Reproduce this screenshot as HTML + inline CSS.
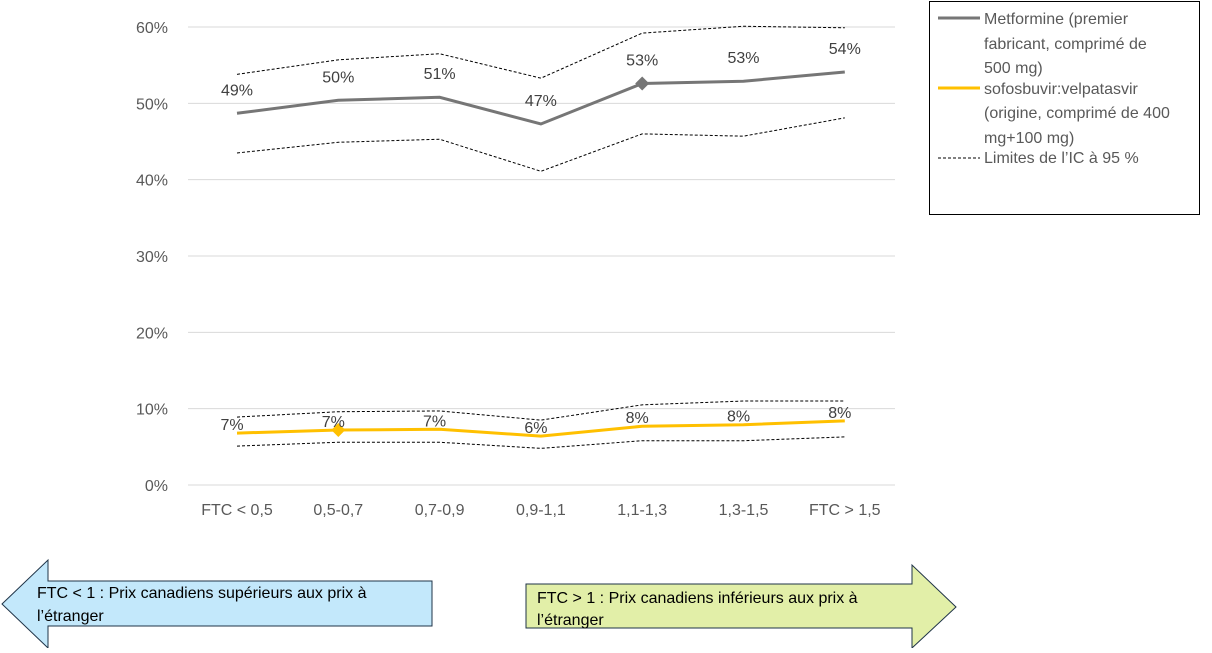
<!DOCTYPE html>
<html><head><meta charset="utf-8"><style>
body{margin:0;background:#fff;font-family:"Liberation Sans",sans-serif}
svg text{font-family:"Liberation Sans",sans-serif}
</style></head><body>
<svg width="1212" height="648">
<g id="grid"></g><g id="marks"></g><g id="labels"></g>
<g>
<rect x="929.5" y="1.5" width="270" height="213" fill="#fff" stroke="#000"/>
<line x1="938" y1="18" x2="980" y2="18" stroke="#767676" stroke-width="3"/>
<text x="984" y="24" font-size="16" fill="#595959">Metformine (premier</text>
<text x="984" y="49" font-size="16" fill="#595959">fabricant, comprimé de</text>
<text x="984" y="73" font-size="16" fill="#595959">500 mg)</text>
<line x1="938" y1="88" x2="980" y2="88" stroke="#FFC000" stroke-width="3"/>
<text x="984" y="94" font-size="16" fill="#595959">sofosbuvir:velpatasvir</text>
<text x="984" y="118" font-size="16" fill="#595959">(origine, comprimé de 400</text>
<text x="984" y="143" font-size="16" fill="#595959">mg+100 mg)</text>
<line x1="938" y1="158" x2="980" y2="158" stroke="#000" stroke-dasharray="3,2"/>
<text x="984" y="163" font-size="16" fill="#595959">Limites de l’IC à 95 %</text>
</g>
<g>
<polygon points="2,604 48,560 48,581 432,581 432,626 48,626 48,648" fill="#C3E8FB" stroke="#1F3347"/>
<text x="37" y="598" font-size="16" fill="#000">FTC &lt; 1 : Prix canadiens supérieurs aux prix à</text>
<text x="37" y="621" font-size="16" fill="#000">l’étranger</text>
</g>
<g>
<polygon points="956,607 912,565 912,584 526,584 526,628 912,628 912,648" fill="#E2EFA8" stroke="#1F3347"/>
<text x="537" y="603" font-size="16" fill="#000">FTC &gt; 1 : Prix canadiens inférieurs aux prix à</text>
<text x="537" y="625" font-size="16" fill="#000">l’étranger</text>
</g>
</svg>
<script>
const categories=["FTC < 0,5","0,5-0,7","0,7-0,9","0,9-1,1","1,1-1,3","1,3-1,5","FTC > 1,5"];
const metValues=[48.7,50.4,50.8,47.3,52.6,52.9,54.1];
const metUpper=[53.8,55.7,56.5,53.3,59.2,60.1,59.9];
const metLower=[43.5,44.9,45.3,41.1,46.0,45.7,48.1];
const metLabels=["49%","50%","51%","47%","53%","53%","54%"];
const sofValues=[6.8,7.2,7.3,6.4,7.7,7.9,8.4];
const sofUpper=[8.9,9.6,9.7,8.5,10.5,11.0,11.0];
const sofLower=[5.1,5.6,5.6,4.8,5.8,5.8,6.3];
const sofLabels=["7%","7%","7%","6%","8%","8%","8%"];
const yTicks=[0,10,20,30,40,50,60];
const NS="http://www.w3.org/2000/svg";
const y=v=>485-v*7.633;
const x=i=>237+i*101.3;
function mk(t,a,p){const e=document.createElementNS(NS,t);for(const k in a)e.setAttribute(k,a[k]);p.appendChild(e);return e;}
const grid=document.getElementById('grid'),marks=document.getElementById('marks'),labels=document.getElementById('labels');
yTicks.forEach(t=>{
 const l=mk('line',{x1:188,x2:895,y1:y(t),y2:y(t),stroke:'#d9d9d9'},grid);
 
 
 const tx=mk('text',{x:168,y:y(t)+6,'text-anchor':'end','font-size':16,fill:'#595959'},labels);
 tx.textContent=t+'%';
 
 
});
categories.forEach((c,i)=>{
 const tx=mk('text',{x:x(i),y:515,'text-anchor':'middle','font-size':16,fill:'#595959'},labels);
 tx.textContent=c;
 
 
});
function line(vals,col,w,dash,name){
 const p=mk('polyline',{points:vals.map((v,i)=>x(i)+','+y(v)).join(' '),fill:'none',stroke:col,'stroke-width':w},marks);
 if(dash)p.setAttribute('stroke-dasharray',dash);
 
 
}
line(metUpper,'#000',1,'3,2','metformine-ci-upper');
line(metLower,'#000',1,'3,2','metformine-ci-lower');
line(sofUpper,'#000',1,'3,2','sofosbuvir-ci-upper');
line(sofLower,'#000',1,'3,2','sofosbuvir-ci-lower');
line(metValues,'#767676',3,null,'metformine-line');
line(sofValues,'#FFC000',3,null,'sofosbuvir-line');
function diamond(i,v,col,name){
 const cx=x(i),cy=y(v);
 const d=mk('polygon',{points:`${cx},${cy-7} ${cx+7},${cy} ${cx},${cy+7} ${cx-7},${cy}`,fill:col},marks);
 
 
}
diamond(4,metValues[4],'#767676','metformine-marker');
diamond(1,sofValues[1],'#FFC000','sofosbuvir-marker');
metLabels.forEach((s,i)=>{
 const tx=mk('text',{x:x(i),y:y(metValues[i])-18,'text-anchor':'middle','font-size':16,fill:'#404040'},labels);
 tx.textContent=s;
 
 
});
sofLabels.forEach((s,i)=>{
 const tx=mk('text',{x:x(i)-5,y:y(sofValues[i])-3,'text-anchor':'middle','font-size':16,fill:'#404040'},labels);
 tx.textContent=s;
 
 
});
</script>
</body></html>
